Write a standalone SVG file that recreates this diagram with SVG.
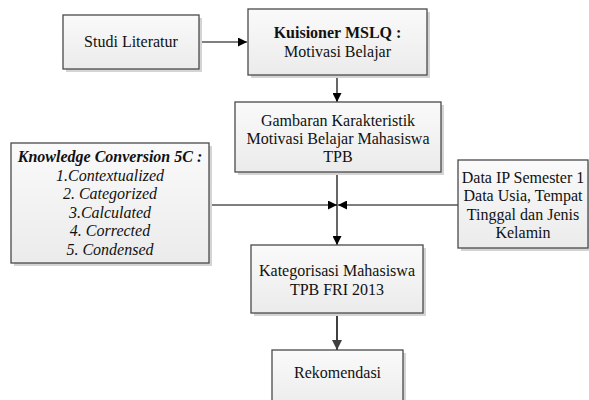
<svg xmlns="http://www.w3.org/2000/svg" width="589" height="400" viewBox="0 0 589 400">
<defs>
<linearGradient id="g" x1="0" y1="0" x2="0" y2="1">
<stop offset="0" stop-color="#fafafa"/>
<stop offset="1" stop-color="#ebebeb"/>
</linearGradient>
<marker id="ah" viewBox="0 0 10 10" refX="10" refY="5" markerWidth="9" markerHeight="9" markerUnits="userSpaceOnUse" orient="auto">
<path d="M0,0 L10,5 L0,10 Z" fill="#000"/>
</marker>
<marker id="ah2" viewBox="0 0 10 10" refX="10" refY="5" markerWidth="10" markerHeight="10" markerUnits="userSpaceOnUse" orient="auto">
<path d="M0,0 L10,5 L0,10 Z" fill="#404040"/>
</marker>
</defs>
<style>
.sh{fill:#d4d4d4}
.bx{fill:url(#g);stroke:#4a4a4a;stroke-width:1.3}
text{font-family:"Liberation Serif","Times New Roman",serif;font-size:16px;fill:#111;text-anchor:middle}
.b{font-weight:bold}
.i{font-style:italic}
.ln{stroke:#000;stroke-width:1.2;fill:none}
</style>
<rect width="589" height="400" fill="#fff"/>
<g id="connectors">
<line class="ln" x1="199" y1="42" x2="247" y2="42" marker-end="url(#ah)"/>
<line class="ln" x1="337" y1="75" x2="337" y2="102" marker-end="url(#ah)"/>
<line class="ln" x1="337" y1="172" x2="337" y2="245" marker-end="url(#ah)"/>
<line class="ln" x1="210" y1="205" x2="337" y2="205" marker-end="url(#ah)"/>
<line class="ln" x1="458" y1="205" x2="338" y2="205" marker-end="url(#ah)"/>
<line x1="337" y1="313" x2="337" y2="350" stroke="#404040" stroke-width="2" marker-end="url(#ah2)"/>
</g>
<g id="studi">
<rect class="sh" x="66" y="18" width="136" height="54"/>
<rect class="bx" x="63" y="15" width="136" height="54"/>
<text x="131" y="47">Studi Literatur</text>
</g>
<g id="kuisioner">
<rect class="sh" x="251" y="12" width="179" height="66"/>
<rect class="bx" x="248" y="9" width="179" height="66"/>
<text x="337.5" y="38" class="b">Kuisioner MSLQ :</text>
<text x="337.5" y="57">Motivasi Belajar</text>
</g>
<g id="gambaran">
<rect class="sh" x="238" y="105" width="206" height="70"/>
<rect class="bx" x="235" y="102" width="206" height="70"/>
<text x="338" y="126">Gambaran Karakteristik</text>
<text x="338" y="144">Motivasi Belajar Mahasiswa</text>
<text x="338" y="162">TPB</text>
</g>
<g id="knowledge">
<rect class="sh" x="14" y="146" width="198" height="120"/>
<rect class="bx" x="11" y="143" width="198" height="120"/>
<text x="110" y="162" class="b i">Knowledge Conversion 5C :</text>
<text x="110" y="180.6" class="i">1.Contextualized</text>
<text x="110" y="199.2" class="i">2. Categorized</text>
<text x="110" y="217.8" class="i">3.Calculated</text>
<text x="110" y="236.4" class="i">4. Corrected</text>
<text x="110" y="255" class="i">5. Condensed</text>
</g>
<g id="data">
<rect class="sh" x="461" y="163" width="130" height="88"/>
<rect class="bx" x="458" y="160" width="130" height="88"/>
<text x="523" y="183">Data IP Semester 1</text>
<text x="523" y="201">Data Usia, Tempat</text>
<text x="523" y="220">Tinggal dan Jenis</text>
<text x="523" y="238">Kelamin</text>
</g>
<g id="kategorisasi">
<rect class="sh" x="254" y="248" width="172" height="68"/>
<rect class="bx" x="251" y="245" width="172" height="68"/>
<text x="337" y="276">Kategorisasi Mahasiswa</text>
<text x="337" y="295">TPB FRI 2013</text>
</g>
<g id="rekomendasi">
<rect class="sh" x="275" y="353" width="131" height="60"/>
<rect class="bx" x="272" y="350" width="131" height="60"/>
<text x="337.5" y="378">Rekomendasi</text>
</g>
</svg>
